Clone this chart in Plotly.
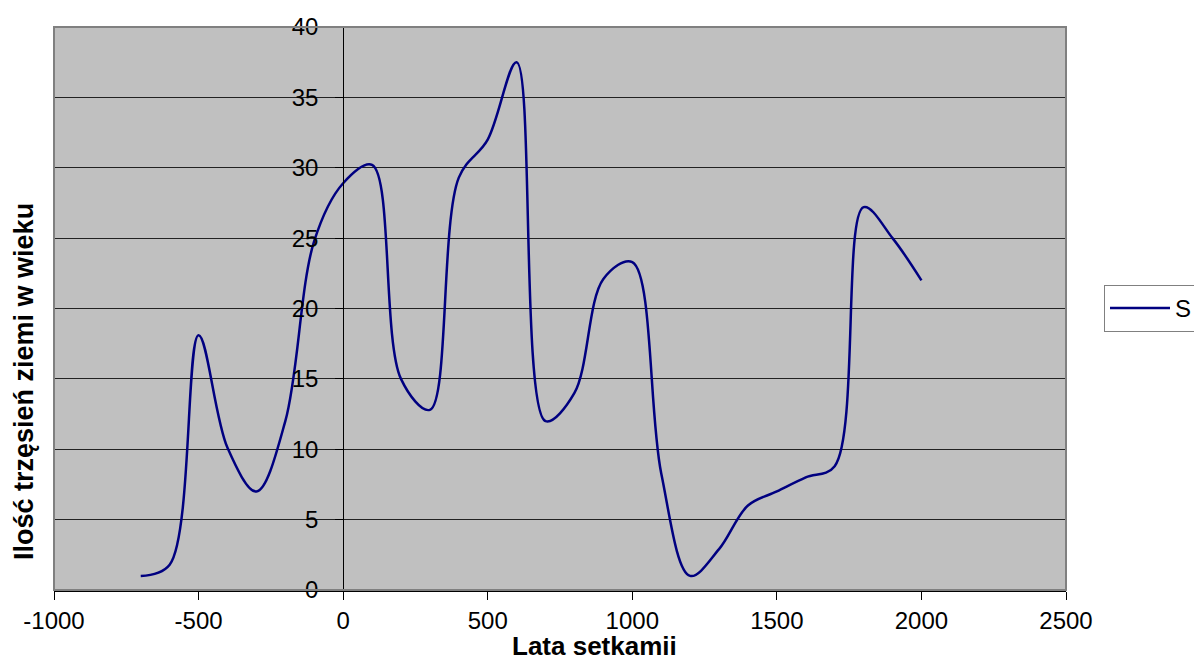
import plotly.graph_objects as go

years = [-700, -600, -500, -400, -300, -200, -100, 0, 100, 200, 300, 400, 500, 600,
         700, 800, 900, 1000, 1100, 1200, 1300, 1400, 1500, 1600, 1700, 1800, 1900, 2000]
counts = [1.0, 1.8, 18.1, 10.1, 7.0, 12.0, 24.8, 28.9, 30.2, 15.0, 12.8, 29.3, 32.0, 37.5,
          12.0, 14.0, 22.1, 23.3, 8.3, 1.0, 2.9, 6.0, 7.0, 8.0, 8.8, 27.2, 25.0, 22.0]
x_ticks = [-1000, -500, 0, 500, 1000, 1500, 2000, 2500]
x_ticklabels = ["-1000", "-500", "0", "500", "1000", "1500", "2000", "2500"]
y_ticks = [0, 5, 10, 15, 20, 25, 30, 35, 40]
series_name = "S"
x_title = "Lata setkamii"
y_title = "Ilość trzęsień ziemi w wieku"

FONT = "Liberation Sans, Arial, sans-serif"

fig = go.Figure()
fig.add_trace(go.Scatter(
    x=years, y=counts, mode="lines", name=series_name,
    line=dict(color="#000080", width=2.5, shape="spline", smoothing=1.0),
))

ypos = (0 - (-1000)) / 3500.0

fig.update_layout(
    width=1194, height=660,
    margin=dict(l=54, r=128, t=27, b=70, autoexpand=False),
    paper_bgcolor="white",
    plot_bgcolor="#C0C0C0",
    font=dict(family=FONT, size=24, color="black"),
    showlegend=True,
    legend=dict(
        x=(1104 - 54) / 1012.0, xanchor="left",
        y=0.5, yanchor="middle",
        bgcolor="white", bordercolor="#808080", borderwidth=1,
        font=dict(family=FONT, size=24, color="black"),
        tracegroupgap=0, itemwidth=60,
    ),
    xaxis=dict(
        range=[-1000, 2500], tickvals=x_ticks, ticktext=x_ticklabels,
        showgrid=False, zeroline=False,
        showline=True, linecolor="black", linewidth=1.5,
        ticks="outside", ticklen=8, tickcolor="black", tickwidth=1,
        tickfont=dict(family=FONT, size=24, color="black"),
        ticklabelstandoff=0,
    ),
    yaxis=dict(
        range=[0, 40], tickvals=y_ticks,
        anchor="free", position=ypos,
        showgrid=True, gridcolor="#222222", gridwidth=1,
        zeroline=False,
        showline=True, linecolor="black", linewidth=1,
        ticks="outside", ticklen=8, tickcolor="black", tickwidth=1,
        tickfont=dict(family=FONT, size=24, color="black"),
        ticklabelstandoff=12,
    ),
    shapes=[dict(type="rect", xref="paper", yref="paper", x0=0, x1=1, y0=0, y1=1,
                 line=dict(color="#808080", width=2), layer="above")],
    annotations=[
        dict(text="<b>" + x_title + "</b>", xref="paper", yref="paper",
             x=(594 - 54) / 1012.0, y=-(646 - 590) / 563.0,
             xanchor="center", yanchor="middle", showarrow=False,
             font=dict(family=FONT, size=26, color="black")),
        dict(text="<b>" + y_title + "</b>", xref="paper", yref="paper",
             x=(24 - 54) / 1012.0, y=(590 - 382) / 563.0,
             xanchor="center", yanchor="middle", showarrow=False, textangle=-90,
             font=dict(family=FONT, size=27, color="black")),
    ],
)

fig.write_html("out.html")
